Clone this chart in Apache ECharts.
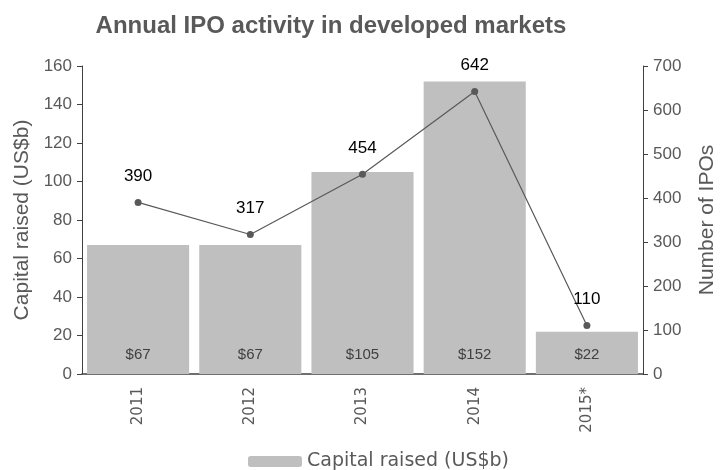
<!DOCTYPE html>
<html>
<head>
<meta charset="utf-8">
<script src="https://cdn.jsdelivr.net/npm/echarts@6/dist/echarts.min.js"></script>
<style>
  html, body { margin: 0; padding: 0; background: #fff; }
  #chart { width: 723px; height: 470px; }
</style>
</head>
<body>
<div id="chart"></div>
<script>
const years = ["2011", "2012", "2013", "2014", "2015*"];
const capitalRaised = [67, 67, 105, 152, 22];
const ipoCount = [390, 317, 454, 642, 110];

const myChart = echarts.init(document.getElementById("chart"));
const gray = "#595959";

const option = {
  animation: false,
  title: {
    text: "Annual IPO activity in developed markets",
    left: 326,
    textAlign: "center",
    top: 9,
    textStyle: {
      color: gray,
      fontSize: 24,
      fontWeight: "bold",
      fontFamily: "Liberation Sans",
    },
  },
  legend: {
    data: ["Capital raised (US$b)"],
    top: 447,
    left: 243,
    itemWidth: 54,
    itemHeight: 11,
    itemGap: 6,
    textStyle: {
      color: gray,
      fontSize: 19,
      fontFamily: "DejaVu Sans",
    },
  },
  grid: {
    left: 82,
    right: 80,
    top: 66,
    bottom: 96,
    outerBoundsMode: "none",
  },
  xAxis: {
    type: "category",
    data: years,
    axisTick: { show: false },
    axisLine: { lineStyle: { color: "#404040", width: 1.5 } },
    axisLabel: {
      rotate: 90,
      color: gray,
      fontSize: 15,
      fontFamily: "DejaVu Sans",
      margin: 13,
    },
  },
  yAxis: [
    {
      type: "value",
      min: 0,
      max: 160,
      interval: 20,
      name: "Capital raised (US$b)",
      nameLocation: "middle",
      nameGap: 49,
      nameTextStyle: {
        color: gray,
        fontSize: 21,
        fontFamily: "Liberation Sans",
      },
      splitLine: { show: false },
      axisLine: { show: true, lineStyle: { color: "#404040" } },
      axisTick: { show: true, length: 5, lineStyle: { color: "#404040" } },
      axisLabel: {
        color: gray,
        fontSize: 17,
        fontFamily: "Liberation Sans",
        margin: 10,
      },
    },
    {
      type: "value",
      min: 0,
      max: 700,
      interval: 100,
      name: "Number of IPOs",
      nameLocation: "middle",
      nameGap: 54,
      nameTextStyle: {
        color: gray,
        fontSize: 21,
        fontFamily: "Liberation Sans",
      },
      splitLine: { show: false },
      axisLine: { show: true, lineStyle: { color: "#404040" } },
      axisTick: { show: true, length: 5, lineStyle: { color: "#404040" } },
      axisLabel: {
        color: gray,
        fontSize: 17,
        fontFamily: "Liberation Sans",
        margin: 10,
      },
    },
  ],
  series: [
    {
      name: "Capital raised (US$b)",
      type: "bar",
      data: capitalRaised,
      barCategoryGap: "9%",
      itemStyle: { color: "#bfbfbf" },
      label: {
        show: true,
        position: "insideBottom",
        distance: 12,
        formatter: (p) => "$" + p.value,
        color: "#404040",
        fontSize: 15,
        fontFamily: "Liberation Sans",
      },
    },
    {
      name: "Number of IPOs",
      type: "line",
      yAxisIndex: 1,
      data: ipoCount,
      symbol: "circle",
      symbolSize: 7,
      lineStyle: { color: gray, width: 1.2 },
      itemStyle: { color: gray },
      label: {
        show: true,
        position: "top",
        distance: 14,
        color: "#000",
        fontSize: 17,
        fontFamily: "Liberation Sans",
      },
    },
  ],
};

myChart.setOption(option);
</script>
</body>
</html>
